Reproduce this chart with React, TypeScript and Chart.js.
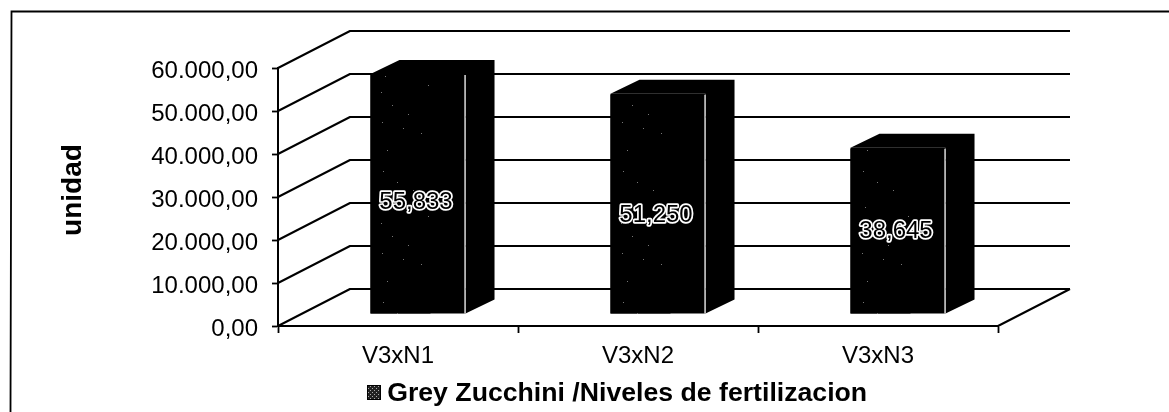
import React, { useEffect, useRef } from "react";
import { Chart, registerables } from "chart.js";

Chart.register(...registerables);

const categories = ["V3xN1", "V3xN2", "V3xN3"];
const seriesValues = [55833, 51250, 38645];
const dataLabels = ["55,833", "51,250", "38,645"];
const seriesName = "Grey Zucchini /Niveles de fertilizacion";
const yAxisTitle = "unidad";

const WIDTH = 1169;
const HEIGHT = 412;
const FONT = '"Liberation Sans", Arial, sans-serif';
const WALL = { dx: 72, dy: -37 };
const BAR_SHIFT = { dx: 20, dy: -12 };
const BAR_DEPTH = { dx: 29, dy: -14 };
const LABEL_NUDGE = [9, 12, 1];
const SPECKS = [
  [2, 3], [23, 9], [7, 31], [41, 14], [3, 52], [17, 63], [33, 71], [5, 88], [1, 104], [12, 117], [48, 97], [28, 126],
];

function speckPattern(dark: string, light: string): CanvasPattern | string {
  const c = document.createElement("canvas");
  c.width = 60;
  c.height = 131;
  const g = c.getContext("2d");
  if (!g) return dark;
  g.fillStyle = dark;
  g.fillRect(0, 0, 60, 131);
  g.fillStyle = light;
  SPECKS.forEach(([x, y]) => g.fillRect(x, y, 1, 1));
  return g.createPattern(c, "repeat") || dark;
}

function swatchPattern(): CanvasPattern | string {
  const c = document.createElement("canvas");
  c.width = 4;
  c.height = 4;
  const g = c.getContext("2d");
  if (!g) return "#444";
  g.fillStyle = "#222";
  g.fillRect(0, 0, 4, 4);
  g.fillStyle = "#aaa";
  g.fillRect(0, 0, 1, 1);
  g.fillRect(2, 2, 1, 1);
  return g.createPattern(c, "repeat") || "#444";
}

const chart3d = {
  id: "chart3d",
  afterLayout(chart: any) {
    const lg = chart.legend;
    if (!lg) return;
    const shift = 617 - (lg.left + lg.right) / 2;
    lg.left += shift;
    lg.right += shift;
    const h = lg.bottom - lg.top;
    lg.top = 397 - h / 2;
    lg.bottom = lg.top + h;
  },
  beforeDraw(chart: any) {
    const { ctx } = chart;
    ctx.save();
    ctx.fillStyle = "#fff";
    ctx.fillRect(0, 0, WIDTH, HEIGHT);
    ctx.strokeStyle = "#000";
    ctx.lineWidth = 1.8;
    ctx.beginPath();
    ctx.moveTo(10.5, HEIGHT);
    ctx.lineTo(11.5, 11.5);
    ctx.lineTo(WIDTH, 11.5);
    ctx.stroke();
    ctx.restore();
  },
  beforeDatasetsDraw(chart: any) {
    const { ctx, chartArea, scales } = chart;
    const y = scales.y;
    ctx.save();
    ctx.strokeStyle = "#000";
    ctx.lineWidth = 2;
    ctx.lineJoin = "round";
    ctx.beginPath();
    y.ticks.forEach((t: any) => {
      const py = y.getPixelForValue(t.value);
      ctx.moveTo(chartArea.left, py);
      ctx.lineTo(chartArea.left + WALL.dx, py + WALL.dy);
      ctx.lineTo(chartArea.right + WALL.dx, py + WALL.dy);
    });
    ctx.moveTo(chartArea.right, chartArea.bottom);
    ctx.lineTo(chartArea.right + WALL.dx, chartArea.bottom + WALL.dy);
    ctx.stroke();
    ctx.restore();
  },
  beforeDatasetDraw(chart: any, args: any) {
    const { ctx } = chart;
    const meta = chart.getDatasetMeta(args.index);
    ctx.save();
    ctx.translate(BAR_SHIFT.dx, BAR_SHIFT.dy);
    ctx.fillStyle = "#000";
    meta.data.forEach((bar: any) => {
      const l = bar.x - bar.width / 2;
      const r = bar.x + bar.width / 2;
      ctx.beginPath();
      ctx.moveTo(l, bar.y);
      ctx.lineTo(l + BAR_DEPTH.dx, bar.y + BAR_DEPTH.dy);
      ctx.lineTo(r + BAR_DEPTH.dx, bar.y + BAR_DEPTH.dy);
      ctx.lineTo(r + BAR_DEPTH.dx, bar.base + BAR_DEPTH.dy);
      ctx.lineTo(r, bar.base);
      ctx.lineTo(r, bar.y);
      ctx.closePath();
      ctx.fill();
    });
  },
  afterDatasetDraw(chart: any, args: any) {
    const { ctx } = chart;
    const meta = chart.getDatasetMeta(args.index);
    const specks = speckPattern("#000", "#777");
    meta.data.forEach((bar: any) => {
      const l = bar.x - bar.width / 2;
      ctx.fillStyle = specks;
      ctx.fillRect(l, bar.y + 1, 60, bar.base - bar.y - 1);
    });
    ctx.strokeStyle = "#fff";
    ctx.lineWidth = 1.2;
    meta.data.forEach((bar: any) => {
      const r = bar.x + bar.width / 2 - 0.5;
      ctx.beginPath();
      ctx.moveTo(r, bar.y + 1);
      ctx.lineTo(r, bar.base);
      ctx.stroke();
    });
    ctx.restore();

    ctx.save();
    ctx.font = `24px ${FONT}`;
    ctx.textAlign = "center";
    ctx.textBaseline = "middle";
    ctx.lineJoin = "round";
    meta.data.forEach((bar: any, i: number) => {
      const cx = bar.x + BAR_SHIFT.dx - 2;
      const cy = (bar.y + bar.base) / 2 + BAR_SHIFT.dy + LABEL_NUDGE[i];
      ctx.lineWidth = 3.4;
      ctx.strokeStyle = "#fff";
      ctx.strokeText(dataLabels[i], cx, cy);
      ctx.fillStyle = "#000";
      ctx.fillText(dataLabels[i], cx, cy);
    });
    ctx.restore();
  },
  afterDraw(chart: any) {
    const { ctx } = chart;
    ctx.save();
    ctx.fillStyle = swatchPattern();
    ctx.strokeStyle = "#000";
    ctx.lineWidth = 1;
    ctx.fillRect(367.5, 385.5, 13, 14);
    ctx.strokeRect(367.5, 385.5, 13, 14);
    ctx.translate(81, 190);
    ctx.rotate(-Math.PI / 2);
    ctx.font = `bold 28px ${FONT}`;
    ctx.fillStyle = "#000";
    ctx.textAlign = "center";
    ctx.textBaseline = "alphabetic";
    ctx.fillText(yAxisTitle, 0, 0);
    ctx.restore();
  },
};

export default function App() {
  const ref = useRef<HTMLCanvasElement | null>(null);
  useEffect(() => {
    if (!ref.current) return;
    const chart = new Chart(ref.current, {
      type: "bar",
      data: {
        labels: categories,
        datasets: [
          {
            label: seriesName,
            data: seriesValues,
            backgroundColor: "#000",
            barPercentage: 0.396,
            categoryPercentage: 1,
          },
        ],
      },
      options: {
        animation: false,
        responsive: false,
        layout: { padding: { left: 60, right: 171, top: 68, bottom: 0 } },
        plugins: {
          tooltip: { enabled: false },
          legend: {
            position: "bottom",
            labels: {
              boxWidth: 7,
              boxHeight: 14,
              padding: 4,
              color: "#000",
              font: { family: FONT, size: 26.67, weight: "bold" },
              generateLabels: (c: any) => [
                {
                  text: c.data.datasets[0].label,
                  fillStyle: "rgba(0,0,0,0)",
                  strokeStyle: "rgba(0,0,0,0)",
                  lineWidth: 0,
                  datasetIndex: 0,
                },
              ],
            },
          },
        },
        scales: {
          x: {
            afterFit: (s: any) => {
              s.height = 86 - (s.chart.legend?.height ?? 0);
            },
            grid: { drawOnChartArea: false, color: "#000", tickLength: 7, tickWidth: 1.8 },
            border: { color: "#000", width: 2 },
            ticks: { color: "#000", padding: 9, font: { family: FONT, size: 24 } },
          },
          y: {
            min: 0,
            max: 60000,
            afterFit: (s: any) => {
              s.width = 218;
            },
            grid: { drawOnChartArea: false, color: "#000", tickLength: 6, tickWidth: 1.8 },
            border: { color: "#000", width: 2 },
            ticks: {
              stepSize: 10000,
              color: "#000",
              padding: 14,
              labelOffset: 3,
              font: { family: FONT, size: 24 },
              callback: (v: any) =>
                Number(v).toLocaleString("de-DE", { minimumFractionDigits: 2, maximumFractionDigits: 2 }),
            },
          },
        },
      },
      plugins: [chart3d],
    } as any);
    return () => chart.destroy();
  }, []);
  return (
    <canvas
      ref={ref}
      width={WIDTH}
      height={HEIGHT}
      style={{ position: "absolute", left: 0, top: 0, display: "block", width: WIDTH, height: HEIGHT }}
    />
  );
}
